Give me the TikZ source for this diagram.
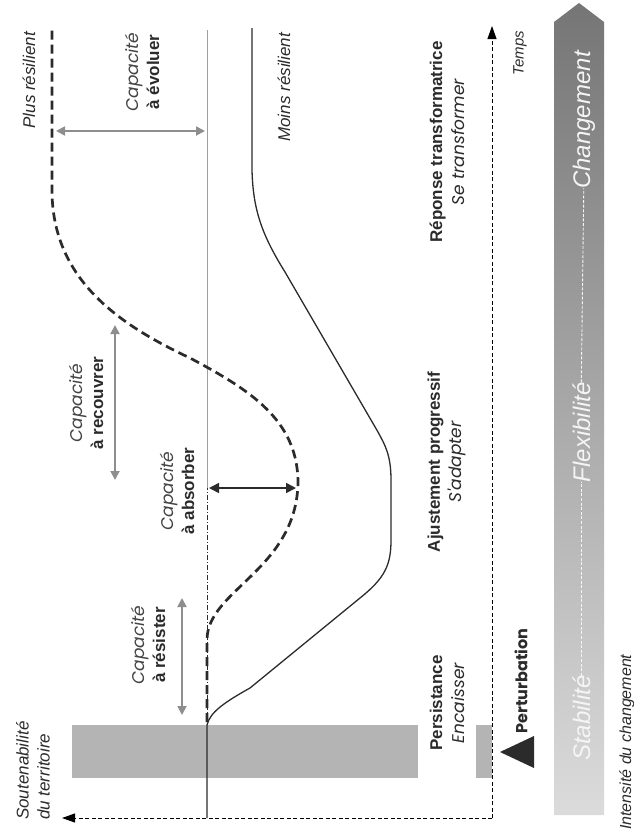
\documentclass[tikz,border=0pt]{standalone}
\usepackage{fontspec}
\setmainfont{Liberation Sans}
\newfontfamily\pop{Poppins}
\usetikzlibrary{arrows.meta}
\definecolor{dk}{HTML}{2B2B2B}
\definecolor{gr}{HTML}{8E8E8E}
\definecolor{barc}{HTML}{B4B4B4}
\definecolor{captxt}{HTML}{444444}
\newcommand{\capa}{{\pop\itshape\fontsize{17}{21}\selectfont\color{captxt}Capacité}}
\newcommand{\subl}[1]{{\pop\itshape\fontsize{17}{21}\selectfont #1}}
\begin{document}
\begin{tikzpicture}[x=1pt,y=-1pt,
  lab/.style={rotate=90, align=center, inner sep=1pt, text=dk, font=\fontsize{17}{21}\selectfont},
  colbox/.style={rotate=90, align=center, fill=white, inner sep=2pt, text=dk,
    minimum width=190pt, minimum height=58pt, font=\fontsize{17}{22}\selectfont},
  bandtxt/.style={rotate=90, anchor=base, text=white!92!gray, font=\fontsize{24}{24}\selectfont\itshape},
  bandline/.style={white!92!gray, line width=0.9pt, dash pattern=on 3pt off 1.6pt},
  axis/.style={black, line width=1pt, dash pattern=on 4pt off 2.5pt},
  axtip/.style={-{Triangle[length=13pt,width=9pt]}},
  garrow/.style={gr, line width=1.8pt, {Triangle[length=9pt,width=9pt]}-{Triangle[length=9pt,width=9pt]}},
  karrow/.style={dk, line width=1.6pt, {Triangle[length=10pt,width=10pt]}-{Triangle[length=10pt,width=10pt]}},
  resil/.style={dk, line width=2.7pt, dash pattern=on 9pt off 5pt},
  moins/.style={dk, line width=1.3pt}]
\useasboundingbox (0,0) rectangle (634,833);

% perturbation bar
\fill[barc] (72,725) rectangle (492,778);

% big gradient arrow
\shade[top color=black!54, bottom color=black!14] (554,815) -- (554,22) -- (579,3) -- (604,22) -- (604,815) -- cycle;
\node[bandtxt] (stab) at (590,718) {Stabilité};
\node[bandtxt] (flex) at (590,432) {Flexibilité};
\node[bandtxt] (chg) at (590,120) {Changement};
\draw[bandline] ([yshift=-4pt]stab.east) -- ([yshift=4pt]flex.west);
\draw[bandline] ([yshift=-4pt]flex.east) -- ([yshift=4pt]chg.west);

% column labels
\node[colbox] (pers) at (447,703) {\textbf{Persistance}\\\subl{Encaisser}};
\node[colbox] (ajus) at (447,462) {\textbf{Ajustement progressif}\\\subl{S'adapter}};
\node[colbox] (rep) at (447,142) {\textbf{Réponse transformatrice}\\\subl{Se transformer}};

% axes
\coordinate (O) at (492,818);
\coordinate (S) at (62,818);
\coordinate (T) at (492,26);
\draw[axis, axtip] (O) -- (S);
\draw[axis, axtip] (O) -- (T);

% reference line
\coordinate (b0) at (207,720);
\coordinate (b1) at (207,488);
\coordinate (b2) at (207,30);
\draw[gray!75, line width=0.9pt] (b1) -- (b2);
\draw[dk, line width=0.8pt, dash pattern=on 5pt off 2pt on 1pt off 2pt] (b0) -- (b1);

% less resilient curve
\draw[moins] (207,818) -- (207,725) .. controls (210,712) and (225,702) .. (250,688)
  -- (360,598) .. controls (385,578) and (391,565) .. (391,540) -- (391,480)
  .. controls (391,455) and (385,445) .. (378,432) -- (285,272)
  .. controls (262,235) and (253,210) .. (252,170) -- (252,28);

% more resilient curve
\draw[resil] (207,722) -- (207,640) .. controls (207,590) and (296,570) .. (298,483)
  .. controls (298,420) and (250,390) .. (190,358)
  .. controls (120,325) and (52,280) .. (52,190) -- (52,28);

% capacity arrows
\coordinate (ev1) at (56,131); \coordinate (ev2) at (205,131);
\draw[garrow] (ev1) -- (ev2);
\coordinate (rc1) at (115,325); \coordinate (rc2) at (115,480);
\draw[garrow] (rc1) -- (rc2);
\coordinate (ab1) at (209,488); \coordinate (ab2) at (296,488);
\draw[karrow] (ab1) -- (ab2);
\coordinate (rs1) at (182,598); \coordinate (rs2) at (182,715);
\draw[garrow] (rs1) -- (rs2);

% texts
\node[lab] (plus) at (29,80) {\textit{Plus résilient}};
\node[lab] (moinsl) at (284,87) {\textit{Moins résilient}};
\node[lab, font=\fontsize{15}{18}\selectfont] (temps) at (520,53) {\textit{Temps}};
\node[lab] (cev) at (142,72) {\capa\\\textbf{à évoluer}};
\node[lab] (crec) at (86,403) {\capa\\\textbf{à recouvrer}};
\node[lab] (cabs) at (177,491) {\capa\\\textbf{à absorber}};
\node[lab] (cres) at (148,645) {\capa\\\textbf{à résister}};
\node[lab, anchor=west, align=left] (sout) at (33,821) {\textit{Soutenabilité}\\\textit{du territoire}};
\node[lab, font=\pop\fontsize{16}{18}\selectfont\bfseries] (pert) at (521,681) {Perturbation};
\node[lab, anchor=west, font=\fontsize{16}{18}\selectfont\itshape] (int) at (627,831) {Intensité du changement};

% perturbation triangle
\fill[dk] (500,752) -- (534,736) -- (534,768) -- cycle;
\end{tikzpicture}
\end{document}
